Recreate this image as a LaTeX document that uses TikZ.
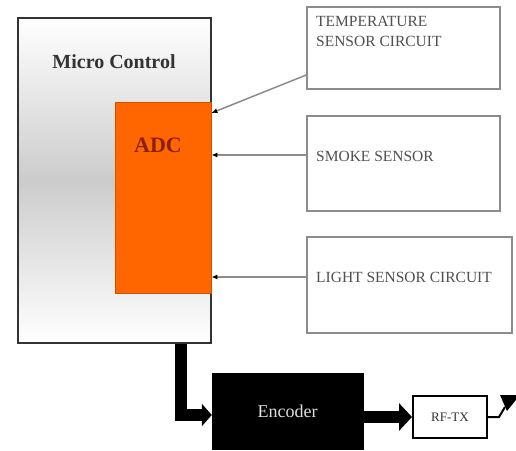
\documentclass[tikz,border=0pt]{standalone}
\usepackage{fontspec}
\setmainfont{Liberation Serif}
\usetikzlibrary{arrows.meta}
\definecolor{adcorange}{HTML}{FF6600}
\definecolor{adctext}{HTML}{8B2000}
\definecolor{sensgray}{HTML}{8C8C8C}
\definecolor{txtgray}{HTML}{505050}
\tikzset{
  mcbox/.style={draw=black!80, line width=2.5pt, top color=white, bottom color=white, middle color=black!20, minimum width=193pt, minimum height=325pt, inner sep=0pt},
  adcbox/.style={fill=adcorange, draw=adcorange!80!black, line width=0.8pt, minimum width=96pt, minimum height=191pt, inner sep=0pt},
  sensbox/.style={draw=sensgray, line width=1.5pt, fill=white, inner sep=0pt},
  senstext/.style={text=txtgray, font=\fontsize{15.5}{20}\selectfont, align=left, inner sep=0pt},
  sensline/.style={draw=sensgray, line width=1.5pt, -{Latex[length=6pt,width=5pt,color=black]}},
  fatarrow/.style={draw=black, line width=12pt, line join=miter},
  encbox/.style={fill=black, draw=black, minimum width=151pt, minimum height=76pt, inner sep=0pt, text=black!12, font=\fontsize{18}{20}\selectfont},
  rfbox/.style={draw=black, line width=2pt, fill=white, minimum width=74pt, minimum height=42pt, inner sep=0pt, font=\fontsize{13}{15}\selectfont, text=black!80}
}
\begin{document}
\begin{tikzpicture}[x=1pt, y=-1pt]
\useasboundingbox (0,0) rectangle (516,450);
\clip (0,0) rectangle (516,450);
\fill[white] (0,0) rectangle (516,450);

% Micro control
\node[mcbox] (mc) at (114.5,180.5) {};
\node[text=black!80, font=\fontsize{20}{24}\selectfont\bfseries, inner sep=0pt] (mctxt) at (114,62) {Micro Control};
\node[adcbox] (adc) at (163,197.5) {};
\node[text=adctext, font=\fontsize{22}{24}\selectfont\bfseries, inner sep=0pt] (adctxt) at (158,145) {ADC};

% sensors
\node[sensbox, minimum width=193pt, minimum height=82pt] (temp) at (403.5,48) {};
\node[senstext, anchor=north west] (temptxt) at (316,16) {TEMPERATURE\\SENSOR CIRCUIT};
\node[sensbox, minimum width=193pt, minimum height=95pt] (smoke) at (403.5,163.5) {};
\node[senstext, anchor=west] (smoketxt) at (316,156) {SMOKE SENSOR};
\node[sensbox, minimum width=205pt, minimum height=96pt] (light) at (409.5,285) {};
\node[senstext, anchor=west] (lighttxt) at (316,277) {LIGHT SENSOR CIRCUIT};

\draw[sensline] (temp.west |- 0,75) -- (adc.east |- 0,113);
\draw[sensline] (smoke.west |- 0,155) -- (adc.east |- 0,155);
\draw[sensline] (light.west |- 0,277) -- (adc.east |- 0,277);

% encoder and transmitter
\node[encbox] (enc) at (287.5,411) {Encoder};
\node[rfbox] (rf) at (450,417) {RF-TX};

\draw[fatarrow, -{Triangle[width=22pt 0 0, length=10pt 0 0]}] (mc.south -| 181,0) -- (181,415) -- (enc.west |- 0,415);
\draw[fatarrow, -{Triangle[width=27pt 0 0, length=13pt 0 0]}] (enc.east |- rf.west) -- (rf.west);

% antenna
\coordinate (ant) at (505,407);
\draw[black, line width=2pt] (rf.east) -- (499,417) -- (ant);
\fill[black] (500,395) -- (520,395) -- (507,411) -- cycle;
\end{tikzpicture}
\end{document}
